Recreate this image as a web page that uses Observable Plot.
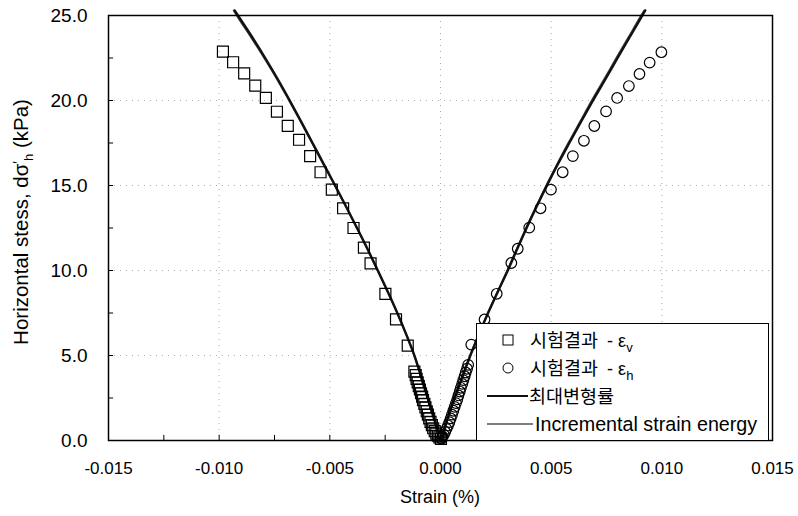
<!DOCTYPE html>
<html><head><meta charset="utf-8">
<script src="https://cdn.jsdelivr.net/npm/d3@7"></script>
<script src="https://cdn.jsdelivr.net/npm/@observablehq/plot@0.6"></script>
<style>body{margin:0;background:#fff;} #chart{width:798px;height:516px;}</style>
</head><body><div id="chart"></div>
<script>
// ---- tick values ----
const xTicks = [-0.015, -0.010, -0.005, 0, 0.005, 0.010, 0.015];
const yTicks = [0, 5, 10, 15, 20, 25];
const xMinorTicks = [-0.0125, -0.0075, -0.0025, 0.0025, 0.0075, 0.0125];
const yMinorTicks = [2.5, 7.5, 12.5, 17.5, 22.5];

// ---- series names ----
const seriesNames = ["시험결과 - ε", "시험결과 - ε", "최대변형률", "Incremental strain energy"];
const seriesSubs = ["v", "h", "", ""];

// ---- 시험결과 - εv (squares) ----
const evStrain = [-0.00983,-0.00937,-0.00887,-0.00837,-0.00789,-0.00739,-0.00690,-0.00639,-0.00589,-0.00542,-0.00491,-0.00440,-0.00393,-0.00346,-0.00316,-0.00249,-0.00201,-0.00148,
  -0.00118,-0.00112,-0.00108,-0.00103,-0.00098,-0.00093,-0.00088,-0.00083,-0.00079,-0.00073,-0.00068,-0.00062,-0.00057,-0.00051,-0.00045,-0.00039,-0.00033,-0.00026,-0.00019,-0.00012,-0.00005,0.00002];
const evStress = [22.88,22.25,21.60,20.87,20.15,19.34,18.51,17.69,16.73,15.78,14.76,13.66,12.50,11.35,10.42,8.63,7.13,5.58,
  4.05,3.85,3.62,3.42,3.20,3.00,2.78,2.58,2.38,2.15,1.95,1.72,1.52,1.30,1.10,0.90,0.72,0.55,0.40,0.28,0.18,0.10];

// ---- 시험결과 - εh (circles) ----
const ehStrain = [0.00998,0.00945,0.00899,0.00851,0.00798,0.00748,0.00695,0.00648,0.00598,0.00552,0.00499,0.00452,0.00401,0.00349,0.00320,0.00254,0.00199,0.00139,
  0.00125,0.00120,0.00114,0.00109,0.00103,0.00098,0.00092,0.00087,0.00081,0.00076,0.00070,0.00064,0.00058,0.00052,0.00046,0.00040,0.00034,0.00027,0.00021,0.00015,0.00009,0.00004];
const ehStress = [22.84,22.23,21.56,20.85,20.15,19.36,18.50,17.63,16.73,15.78,14.76,13.66,12.52,11.28,10.44,8.63,7.12,5.64,
  4.45,4.22,4.00,3.78,3.55,3.33,3.10,2.88,2.65,2.42,2.20,1.98,1.75,1.52,1.30,1.08,0.88,0.68,0.50,0.35,0.22,0.12];

// ---- 최대변형률 (line) ----
const maxStrain = [-0.0093,-0.00915,-0.00852,-0.00792,-0.00735,-0.00681,-0.00629,-0.00578,-0.00527,-0.00476,-0.00426,-0.00377,-0.00329,-0.00283,-0.00238,-0.00195,-0.00155,-0.00118,-0.00087,-0.00057,-0.00028,0,
  0.00031,0.00064,0.00099,0.00135,0.00174,0.00215,0.00259,0.00304,0.00346,0.00389,0.00434,0.00481,0.00530,0.00582,0.00635,0.00689,0.00745,0.00800,0.00856,0.00912,0.00925];
const maxStress = [25.3,25,23.75,22.5,21.25,20,18.75,17.5,16.25,15,13.75,12.5,11.25,10,8.75,7.5,6.25,5,3.75,2.5,1.25,0,
  1.25,2.5,3.75,5,6.25,7.5,8.75,10,11.25,12.5,13.75,15,16.25,17.5,18.75,20,21.25,22.5,23.75,25,25.3];

// ---- Incremental strain energy (line) ----
const energyStrain = [-0.00935,-0.00921,-0.00858,-0.00797,-0.00739,-0.00685,-0.00632,-0.00581,-0.00530,-0.00478,-0.00428,-0.00379,-0.00331,-0.00285,-0.00240,-0.00196,-0.00156,-0.00119,-0.00088,-0.00058,-0.00029,0,
  0.00030,0.00063,0.00097,0.00133,0.00172,0.00213,0.00257,0.00301,0.00343,0.00386,0.00431,0.00477,0.00526,0.00577,0.00630,0.00683,0.00739,0.00794,0.00850,0.00906,0.00920];
const energyStress = [25.3,25,23.75,22.5,21.25,20,18.75,17.5,16.25,15,13.75,12.5,11.25,10,8.75,7.5,6.25,5,3.75,2.5,1.25,0,
  1.25,2.5,3.75,5,6.25,7.5,8.75,10,11.25,12.5,13.75,15,16.25,17.5,18.75,20,21.25,22.5,23.75,25,25.3];

const zip = (xs, ys) => xs.map((x, i) => ({strain: x, stress: ys[i]}));
const evData = zip(evStrain, evStress);
const ehData = zip(ehStrain, ehStress);
const maxData = zip(maxStrain, maxStress);
const energyData = zip(energyStrain, energyStress);

const xMin = xTicks[0];
const tickLenX = 0.3;       // inward tick length on x axis (stress units)
const tickLenY = 0.00023;   // inward tick length on y axis (strain units)

const chart = Plot.plot({
  width: 798, height: 516,
  marginLeft: 108, marginRight: 26, marginTop: 15, marginBottom: 76,
  x: {domain: [xTicks[0], xTicks[xTicks.length - 1]]},
  y: {domain: [yTicks[0], yTicks[yTicks.length - 1]]},
  style: {fontFamily: "'Liberation Sans', Arial, sans-serif", fontSize: "16px", color: "#000", background: "#fff", overflow: "visible"},
  marks: [
    Plot.gridX(xTicks.slice(1, -1), {stroke: "#999", strokeOpacity: 0.8, strokeDasharray: "1,5"}),
    Plot.gridY(yTicks.slice(1, -1), {stroke: "#999", strokeOpacity: 0.8, strokeDasharray: "1,5"}),
    Plot.ruleX([...xTicks, ...xMinorTicks], {x: d => d, y1: yTicks[0], y2: yTicks[0] + tickLenX, stroke: "#000", strokeWidth: 1}),
    Plot.ruleY([...yTicks, ...yMinorTicks], {y: d => d, x1: xMin, x2: xMin + tickLenY, stroke: "#000", strokeWidth: 1}),
    Plot.line(energyData, {x: "strain", y: "stress", stroke: "#444", strokeWidth: 1.6, curve: "monotone-x"}),
    Plot.line(maxData, {x: "strain", y: "stress", stroke: "#111", strokeWidth: 2.4, curve: "monotone-x"}),
    Plot.dot(evData, {x: "strain", y: "stress", symbol: "square", r: 6.2, stroke: "#000", strokeWidth: 1.2, fill: "none"}),
    Plot.dot(ehData, {x: "strain", y: "stress", symbol: "circle", r: 5.3, stroke: "#000", strokeWidth: 1.2, fill: "none"}),
    Plot.frame({stroke: "#000", strokeWidth: 1.5}),
    Plot.axisX({ticks: xTicks, tickSize: 0, tickPadding: 21, tickFormat: d => d.toFixed(3), fontSize: 17, label: null}),
    Plot.axisY({ticks: yTicks, tickSize: 0, tickPadding: 21, tickFormat: d => d.toFixed(1), fontSize: 19, label: null})
  ]
});

document.getElementById("chart").appendChild(chart);
const svg = d3.select(chart);

// x title
svg.append("text").attr("x", 440).attr("y", 503).attr("text-anchor", "middle")
  .attr("font-size", 18).attr("fill", "#000").text("Strain (%)");

// y title with prime and subscript
const yt = svg.append("text").attr("transform", "translate(28,222) rotate(-90)")
  .attr("text-anchor", "middle").attr("font-size", 20.5).attr("fill", "#000");
yt.append("tspan").text("Horizontal stess, dσ");
yt.append("tspan").attr("font-size", 14).attr("dy", -5).text("′");
yt.append("tspan").attr("font-size", 13).attr("dy", 10).text("h");
yt.append("tspan").attr("dy", -5).text(" (kPa)");

// legend
const lg = svg.append("g").attr("text-anchor", "start");
lg.append("rect").attr("x", 476.5).attr("y", 323.5).attr("width", 292).attr("height", 117)
  .attr("fill", "#fff").attr("stroke", "#000").attr("stroke-width", 1);
const rows = [340, 368, 396, 424];
lg.append("rect").attr("x", 503).attr("y", rows[0] - 5).attr("width", 10).attr("height", 10)
  .attr("fill", "none").attr("stroke", "#000").attr("stroke-width", 1);
lg.append("circle").attr("cx", 508).attr("cy", rows[1]).attr("r", 5)
  .attr("fill", "none").attr("stroke", "#000").attr("stroke-width", 1);
lg.append("line").attr("x1", 487).attr("x2", 528).attr("y1", rows[2]).attr("y2", rows[2])
  .attr("stroke", "#111").attr("stroke-width", 2);
lg.append("line").attr("x1", 487).attr("x2", 533).attr("y1", rows[3]).attr("y2", rows[3])
  .attr("stroke", "#555").attr("stroke-width", 1.4);
const textX = [530, 530, 529, 535];
seriesNames.forEach((name, i) => {
  const t = lg.append("text").attr("x", textX[i]).attr("y", rows[i]).attr("dy", "0.35em")
    .attr("text-anchor", "start").attr("font-size", 19.7).attr("fill", "#000");
  const m = name.match(/^([\uAC00-\uD7A3]+)(.*)$/);
  if (m) {
    t.append("tspan").attr("font-family", "'Noto Sans CJK KR', sans-serif").attr("font-size", 18.5).text(m[1]);
    if (m[2]) t.append("tspan").attr("font-size", 18).attr("dx", 4).text(m[2]);
  } else {
    t.text(name);
  }
  if (seriesSubs[i]) t.append("tspan").attr("font-size", 13).attr("dy", 5).text(seriesSubs[i]);
});
</script>
</body></html>
